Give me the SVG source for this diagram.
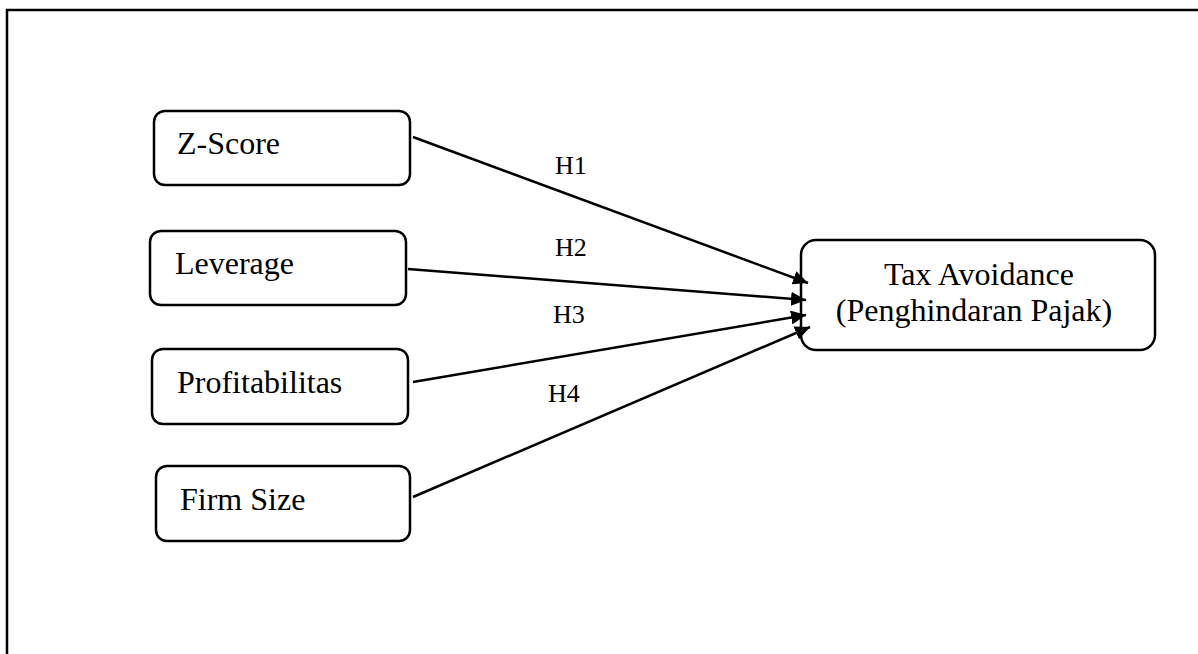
<svg xmlns="http://www.w3.org/2000/svg" width="1198" height="654" viewBox="0 0 1198 654">
<style>
.box{fill:#fff;stroke:#000;stroke-width:2.5}
.t{font-family:"Liberation Serif","Times New Roman",serif;font-size:32px;fill:#000}
.h{font-family:"Liberation Serif","Times New Roman",serif;font-size:26px;fill:#000}
.c{stroke:#000;stroke-width:2.5;fill:none;marker-end:url(#ah)}
</style>
<defs>
<marker id="ah" markerUnits="userSpaceOnUse" markerWidth="16" markerHeight="14" refX="15" refY="7" orient="auto">
<path d="M0,0 L15,7 L0,14 Z" fill="#000"/>
</marker>
</defs>
<path d="M7,654 V10 H1198" fill="none" stroke="#000" stroke-width="2.5"/>
<g id="z-score"><rect class="box" x="154" y="111" width="256" height="74" rx="11"/><text class="t" x="177" y="154">Z-Score</text></g>
<g id="leverage"><rect class="box" x="150" y="231" width="256" height="74" rx="11"/><text class="t" x="175" y="274">Leverage</text></g>
<g id="profitabilitas"><rect class="box" x="152" y="349" width="256" height="75" rx="11"/><text class="t" x="177" y="393">Profitabilitas</text></g>
<g id="firm-size"><rect class="box" x="156" y="466" width="254" height="75" rx="11"/><text class="t" x="180" y="510">Firm Size</text></g>
<g id="tax-avoidance"><rect class="box" x="801" y="240" width="354" height="110" rx="15"/><text class="t" x="979" y="285" text-anchor="middle">Tax Avoidance</text><text class="t" x="974" y="321" text-anchor="middle">(Penghindaran Pajak)</text></g>
<g id="connectors">
<line class="c" x1="413" y1="137" x2="808" y2="283"/>
<line class="c" x1="408" y1="269" x2="806" y2="300"/>
<line class="c" x1="413" y1="382" x2="806" y2="315"/>
<line class="c" x1="413" y1="497" x2="810" y2="327"/>
<text class="h" x="555" y="174">H1</text>
<text class="h" x="555" y="256">H2</text>
<text class="h" x="553" y="323">H3</text>
<text class="h" x="548" y="402">H4</text>
</g>
</svg>
